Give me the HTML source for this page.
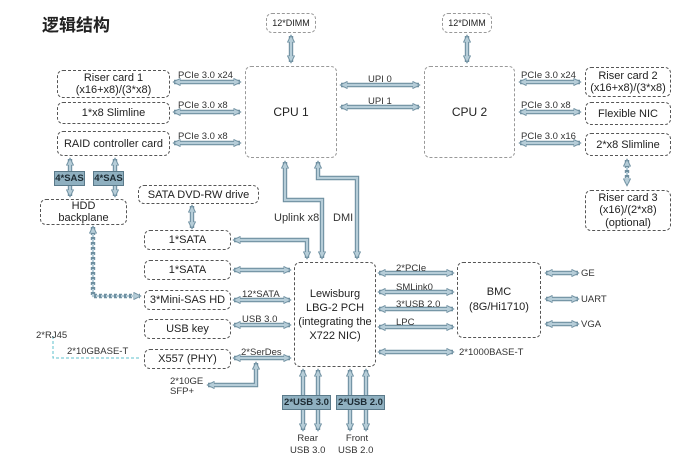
<!DOCTYPE html>
<html><head><meta charset="utf-8"><style>
body{margin:0;background:#fff;width:690px;height:460px;overflow:hidden;position:relative;font-family:"Liberation Sans",Arial,sans-serif;color:#222}
.b{position:absolute;border:1px dashed #555;border-radius:6px;box-sizing:border-box;display:flex;align-items:center;justify-content:center;text-align:center;font-size:11px;line-height:12px;background:#fff}
.l{border-color:#999}
.t{position:absolute;font-size:9.5px;color:#333;white-space:nowrap}
.s{position:absolute;background:#8fb0c0;border:1px solid #5b7a8a;font-size:9.5px;font-weight:bold;color:#1d2b33;display:flex;align-items:center;justify-content:center;box-sizing:border-box}
svg{position:absolute;left:0;top:0}
.o path{fill:none;stroke:#6e8fa0;stroke-width:4.4;marker-start:url(#m);marker-end:url(#m)}
.i path{fill:none;stroke:#b6cdd8;stroke-width:2.2}
.d{stroke-dasharray:3 2}
</style></head><body>
<div style="position:absolute;left:42px;top:11px;font-size:17px;font-family:'Liberation Sans','Noto Sans CJK SC',sans-serif;font-weight:bold;color:#222">逻辑结构</div>
<svg width="690" height="460">
<defs><marker id="m" viewBox="0 0 10 10" refX="8" refY="5" markerWidth="8" markerHeight="8" markerUnits="userSpaceOnUse" orient="auto-start-reverse"><polygon points="0,0.5 9,5 0,9.5" fill="#b6cdd8" stroke="#6e8fa0" stroke-width="1.2"/></marker></defs>
<path d="M53,336 V358 H140" fill="none" stroke="#5fc0cc" stroke-width="1" stroke-dasharray="3 2"/>
<g class="o">
<path d="M291,36 V62"/><path d="M467,36 V62"/>
<path d="M174,82 H240"/><path d="M174,112 H240"/><path d="M174,143 H240"/>
<path d="M341,85 H419"/><path d="M341,107 H419"/>
<path d="M520,82 H580"/><path d="M520,112 H580"/><path d="M520,143 H580"/>
<path class="d" d="M627,160 V185"/>
<path d="M70,159 V196"/><path d="M115,159 V196"/>
<path d="M192,206 V228"/>
<path d="M234,240 H307 V258"/>
<path d="M285,162 V200 H322 V258"/>
<path d="M318,162 V178 H357 V258"/>
<path d="M234,270 H290"/><path d="M234,300 H290"/><path d="M234,325 H290"/><path d="M234,358 H290"/>
<path d="M256,363 V385 H208"/>
<path class="d" d="M93,227 V296 H140"/>
<path d="M303,370 V430"/><path d="M318,370 V430"/><path d="M350,370 V430"/><path d="M366,370 V430"/>
<path d="M379,273 H453"/><path d="M379,292 H453"/><path d="M379,309 H453"/><path d="M379,327 H453"/><path d="M379,352 H453"/>
<path d="M546,273 H578"/><path d="M546,299 H578"/><path d="M546,324 H578"/>
</g>
<g class="i">
<path d="M291,38 V60"/><path d="M467,38 V60"/>
<path d="M176,82 H238"/><path d="M176,112 H238"/><path d="M176,143 H238"/>
<path d="M343,85 H417"/><path d="M343,107 H417"/>
<path d="M522,82 H578"/><path d="M522,112 H578"/><path d="M522,143 H578"/>
<path class="d" d="M627,162 V183"/>
<path d="M70,161 V194"/><path d="M115,161 V194"/>
<path d="M192,208 V226"/>
<path d="M236,240 H307 V256"/>
<path d="M285,164 V200 H322 V256"/>
<path d="M318,164 V178 H357 V256"/>
<path d="M236,270 H288"/><path d="M236,300 H288"/><path d="M236,325 H288"/><path d="M236,358 H288"/>
<path d="M256,365 V385 H210"/>
<path class="d" d="M93,229 V296 H138"/>
<path d="M303,372 V428"/><path d="M318,372 V428"/><path d="M350,372 V428"/><path d="M366,372 V428"/>
<path d="M381,273 H451"/><path d="M381,292 H451"/><path d="M381,309 H451"/><path d="M381,327 H451"/><path d="M381,352 H451"/>
<path d="M548,273 H576"/><path d="M548,299 H576"/><path d="M548,324 H576"/>
</g>
</svg>
<div class="b l" style="left:266px;top:13px;width:50px;height:20px;font-size:9px">12*DIMM</div>
<div class="b l" style="left:442px;top:13px;width:50px;height:20px;font-size:9px">12*DIMM</div>
<div class="b l" style="left:245px;top:66px;width:92px;height:92px;font-size:12px">CPU 1</div>
<div class="b l" style="left:424px;top:66px;width:91px;height:92px;font-size:12px">CPU 2</div>
<div class="b" style="left:57px;top:70px;width:113px;height:28px">Riser card 1<br>(x16+x8)/(3*x8)</div>
<div class="b" style="left:57px;top:102px;width:113px;height:22px">1*x8 Slimline</div>
<div class="b" style="left:57px;top:131px;width:113px;height:25px">RAID controller card</div>
<div class="t" style="left:178px;top:70px">PCIe 3.0 x24</div>
<div class="t" style="left:178px;top:100px">PCIe 3.0 x8</div>
<div class="t" style="left:178px;top:131px">PCIe 3.0 x8</div>
<div class="t" style="left:368px;top:74px">UPI 0</div>
<div class="t" style="left:368px;top:96px">UPI 1</div>
<div class="t" style="left:521px;top:70px">PCIe 3.0 x24</div>
<div class="t" style="left:521px;top:100px">PCIe 3.0 x8</div>
<div class="t" style="left:521px;top:131px">PCIe 3.0 x16</div>
<div class="b" style="left:585px;top:67px;width:86px;height:30px">Riser card 2<br>(x16+x8)/(3*x8)</div>
<div class="b" style="left:585px;top:102px;width:86px;height:23px">Flexible NIC</div>
<div class="b" style="left:585px;top:133px;width:86px;height:23px">2*x8 Slimline</div>
<div class="b" style="left:585px;top:190px;width:86px;height:41px;line-height:12.5px">Riser card 3<br>(x16)/(2*x8)<br>(optional)</div>
<div class="s" style="left:54px;top:171px;width:31px;height:15px">4*SAS</div>
<div class="s" style="left:93px;top:171px;width:31px;height:15px">4*SAS</div>
<div class="b" style="left:40px;top:199px;width:87px;height:26px">HDD<br>backplane</div>
<div class="b" style="left:138px;top:185px;width:121px;height:19px">SATA DVD-RW drive</div>
<div class="b" style="left:144px;top:230px;width:87px;height:20px">1*SATA</div>
<div class="b" style="left:144px;top:260px;width:87px;height:20px">1*SATA</div>
<div class="b" style="left:144px;top:290px;width:87px;height:20px">3*Mini-SAS HD</div>
<div class="b" style="left:144px;top:319px;width:87px;height:20px">USB key</div>
<div class="b" style="left:144px;top:349px;width:87px;height:20px">X557 (PHY)</div>
<div class="t" style="left:274px;top:212px;font-size:11px">Uplink x8</div>
<div class="t" style="left:333px;top:212px;font-size:11px">DMI</div>
<div class="b" style="left:294px;top:262px;width:82px;height:105px;line-height:14px">Lewisburg<br>LBG-2 PCH<br>(integrating the<br>X722 NIC)</div>
<div class="t" style="left:242px;top:289px">12*SATA</div>
<div class="t" style="left:242px;top:314px">USB 3.0</div>
<div class="t" style="left:241px;top:347px">2*SerDes</div>
<div class="t" style="left:36px;top:330px">2*RJ45</div>
<div class="t" style="left:67px;top:346px">2*10GBASE-T</div>
<div class="t" style="left:170px;top:377px;line-height:10px">2*10GE<br>SFP+</div>
<div class="s" style="left:282px;top:395px;width:49px;height:15px">2*USB 3.0</div>
<div class="s" style="left:336px;top:395px;width:49px;height:15px">2*USB 2.0</div>
<div class="t" style="left:290px;top:433px;text-align:center;line-height:12px">Rear<br>USB 3.0</div>
<div class="t" style="left:338px;top:433px;text-align:center;line-height:12px">&nbsp;Front<br>USB 2.0</div>
<div class="t" style="left:396px;top:263px">2*PCIe</div>
<div class="t" style="left:396px;top:282px">SMLink0</div>
<div class="t" style="left:396px;top:299px">3*USB 2.0</div>
<div class="t" style="left:396px;top:317px">LPC</div>
<div class="t" style="left:459px;top:347px">2*1000BASE-T</div>
<div class="b" style="left:457px;top:262px;width:84px;height:76px;line-height:15px">BMC<br>(8G/Hi1710)</div>
<div class="t" style="left:581px;top:268px">GE</div>
<div class="t" style="left:581px;top:294px">UART</div>
<div class="t" style="left:581px;top:319px">VGA</div>
</body></html>
